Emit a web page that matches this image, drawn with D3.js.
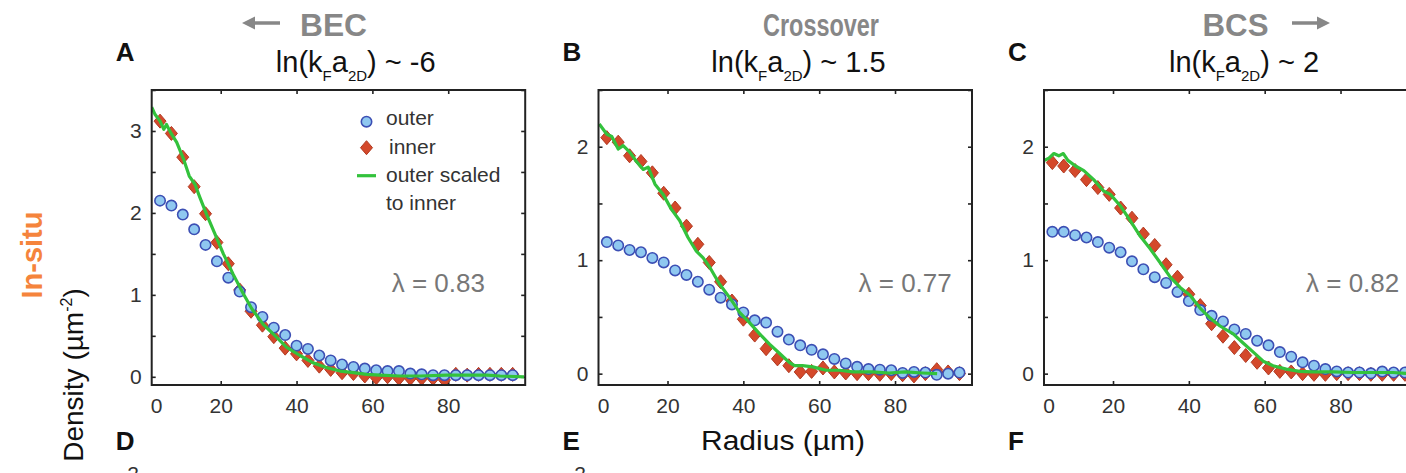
<!DOCTYPE html>
<html>
<head>
<meta charset="utf-8">
<script src="https://cdn.jsdelivr.net/npm/d3@7"></script>
<style>
  html, body { margin: 0; padding: 0; background: #fff; }
  svg { display: block; font-family: "Liberation Sans", Arial, sans-serif; }
</style>
</head>
<body>
<svg id="chart" width="1406" height="473"></svg>
<script>
// Radial density profiles of a 2D Fermi gas, three interaction regimes.
// Radius in µm, density in µm^-2.
const radii = [4, 7, 10, 13, 16, 19, 22, 25, 28, 31, 34, 37, 40, 43, 46, 49,
               52, 55, 58, 61, 64, 67, 70, 73, 76, 79, 82, 85, 88, 91, 94, 97];

// Panel A — BEC side
const outerA = [2.15, 2.09, 1.98, 1.80, 1.61, 1.41, 1.21, 1.04, 0.85, 0.73, 0.60, 0.51, 0.38, 0.34, 0.26, 0.20,
                0.15, 0.12, 0.10, 0.08, 0.07, 0.07, 0.04, 0.03, 0.02, 0.02, 0.02, 0.02, 0.02, 0.02, 0.02, 0.02];
const innerA = [3.12, 2.97, 2.68, 2.32, 1.99, 1.64, 1.38, 1.06, 0.80, 0.63, 0.49, 0.35, 0.28, 0.20, 0.13, 0.09,
                0.05, 0.04, 0.01, -0.01, 0.00, -0.02, -0.02, -0.02, -0.02, -0.04, 0.03, 0.02, 0.03, 0.03, 0.03, 0.03];
const scaledRadiiA = [1.8, 2.7, 4.0, 5.0, 5.7, 6.8, 8.4, 10.1, 11.7, 13.2, 14.5, 16.3, 18.5, 20.7, 23.3, 26.0, 28.2,
                      31.2, 33.9, 37.4, 40.9, 44.4, 48.0, 51.5, 55.0, 58.5, 62.0, 67.3, 72.6, 79.6, 84.9, 90.2, 93.7, 100];
const scaledA = [3.29, 3.20, 3.12, 3.02, 3.08, 2.98, 2.86, 2.67, 2.45, 2.35, 2.19, 1.98, 1.74, 1.50, 1.25, 1.01, 0.83,
                 0.64, 0.52, 0.36, 0.26, 0.17, 0.11, 0.07, 0.05, 0.03, 0.02, 0.01, 0.01, 0.02, 0.02, 0.02, 0.01, 0.00];

// Panel B — crossover
const outerB = [1.16, 1.13, 1.09, 1.07, 1.02, 0.98, 0.91, 0.87, 0.81, 0.74, 0.67, 0.61, 0.54, 0.47, 0.45, 0.37,
                0.30, 0.25, 0.21, 0.17, 0.13, 0.09, 0.06, 0.04, 0.035, 0.03, 0.006, 0.015, 0.01, -0.01, 0.00, 0.01];
const innerB = [2.08, 2.04, 1.92, 1.87, 1.77, 1.59, 1.46, 1.30, 1.14, 0.98, 0.81, 0.64, 0.48, 0.34, 0.22, 0.13,
                0.07, 0.015, 0.02, 0.05, 0.015, 0.006, 0.00, 0.00, -0.006, 0.00, -0.01, -0.02, 0.00, 0.035, 0.015, 0.00];
const scaledRadiiB = [2.0, 4.0, 5.3, 7.0, 8.3, 10.1, 11.8, 13.6, 14.9, 16.7, 18.85, 21.0, 23.2, 25.4, 27.6, 29.4, 31.1, 33.7,
                      36.4, 39.0, 41.6, 44.3, 46.9, 49.5, 52.1, 53.5, 55.6, 58.3, 61.8, 65.3, 68.9, 74.0, 78.4, 82.8, 87.2, 91.1];
const scaledB = [2.20, 2.11, 2.09, 1.98, 2.01, 1.95, 1.87, 1.80, 1.82, 1.67, 1.58, 1.45, 1.35, 1.20, 1.08, 1.02, 0.94, 0.79,
                 0.67, 0.54, 0.45, 0.35, 0.26, 0.18, 0.10, 0.07, 0.07, 0.06, 0.03, 0.03, 0.015, 0.015, 0.006, 0.015, 0.006, 0.00];

// Panel C — BCS side
const outerC = [1.25, 1.25, 1.22, 1.20, 1.16, 1.11, 1.07, 0.99, 0.92, 0.85, 0.80, 0.72, 0.64, 0.56, 0.51, 0.46,
                0.39, 0.35, 0.29, 0.25, 0.19, 0.15, 0.10, 0.07, 0.04, 0.02, 0.01, 0.01, 0.003, 0.018, 0.01, 0.01];
const innerC = [1.86, 1.83, 1.79, 1.71, 1.64, 1.58, 1.46, 1.37, 1.23, 1.13, 0.96, 0.85, 0.70, 0.60, 0.44, 0.33,
                0.23, 0.16, 0.10, 0.05, 0.02, 0.015, 0.00, -0.006, -0.006, 0.00, 0.00, 0.00, -0.006, -0.006, -0.006, -0.006];
const scaledRadiiC = [1.9, 3.1, 4.4, 5.7, 6.9, 8.1, 10.1, 12.3, 14.9, 17.5, 19.3, 21.9, 24.5, 27.2, 29.8, 32.4, 35.1, 37.7,
                      40.3, 42.9, 45.6, 48.2, 51.7, 54.3, 57.0, 59.6, 62.2, 65.7, 69.2, 72.7, 78.0, 83.2, 88.5, 93.8, 97.1, 100];
const scaledC = [1.88, 1.90, 1.94, 1.92, 1.94, 1.88, 1.83, 1.79, 1.71, 1.61, 1.58, 1.48, 1.35, 1.21, 1.10, 0.98, 0.85, 0.76,
                 0.69, 0.58, 0.49, 0.42, 0.35, 0.27, 0.19, 0.11, 0.07, 0.04, 0.02, 0.015, 0.015, 0.01, 0.01, 0.01, 0.003, 0.003];

// Labels
const panelLetters = ["A", "B", "C"];
const lowerLetters = ["D", "E", "F"];
const regimes = ["BEC", "Crossover", "BCS"];
const couplings = ["-6", "1.5", "2"];
const lambdas = ["0.83", "0.77", "0.82"];
const xTickValues = [20, 40, 60, 80];
const yMaxes = [3.5, 2.5, 2.5];
const legendLabels = ["outer", "inner", "outer scaled", "to inner"];

// Layout
const plotW = 373.5, plotTop = 90, plotBottom = 385;
const panelLefts = [151.7, 598.5, 1044];
const subtitleOffsets = [204, 200, 200];
const lambdaOffsets = [240, 260, 262];
const xDomain = [1.8, 100.3];

const COLORS = {
  circleFill: "#8fc8f0", circleStroke: "#3c4fb4",
  diamondFill: "#d4492b", diamondStroke: "#b13a22",
  green: "#33c23c", frame: "#222", tick: "#333", gray: "#878787",
  orange: "#f5843c"
};

const panels = [
  { outer: outerA, inner: innerA, sr: scaledRadiiA, sv: scaledA },
  { outer: outerB, inner: innerB, sr: scaledRadiiB, sv: scaledB },
  { outer: outerC, inner: innerC, sr: scaledRadiiC, sv: scaledC }
];

const svg = d3.select("#chart");
const diamond = (cx, cy) => `M${cx},${cy - 7}L${cx + 6},${cy}L${cx},${cy + 7}L${cx - 6},${cy}Z`;

panels.forEach((p, i) => {
  const left = panelLefts[i];
  const x = d3.scaleLinear().domain(xDomain).range([left, left + plotW]);
  const y = d3.scaleLinear().domain([-0.1, yMaxes[i]]).range([plotBottom, plotTop]);
  const g = svg.append("g");

  const clipId = "clip" + i;
  svg.append("clipPath").attr("id", clipId)
    .append("rect").attr("x", left).attr("y", plotTop).attr("width", plotW).attr("height", plotBottom - plotTop);

  const yTicks = d3.range(0, yMaxes[i] + 0.01, 0.5);

  // left axis with inward ticks, integer labels
  const axL = g.append("g").attr("transform", `translate(${left},0)`)
    .call(d3.axisLeft(y).tickValues(yTicks).tickSize(-4).tickPadding(10)
      .tickFormat(d => Number.isInteger(d) ? d3.format("d")(d) : ""));
  // right axis
  const axR = g.append("g").attr("transform", `translate(${left + plotW},0)`)
    .call(d3.axisRight(y).tickValues(yTicks).tickSize(-4).tickFormat(""));
  // top axis
  const axT = g.append("g").attr("transform", `translate(0,${plotTop})`)
    .call(d3.axisTop(x).tickValues(xTickValues).tickSize(-4).tickFormat(""));
  // bottom axis
  const axB = g.append("g").attr("transform", `translate(0,${plotBottom})`)
    .call(d3.axisBottom(x).tickValues(xTickValues).tickSize(-4).tickPadding(13).tickFormat(d3.format("d")));

  [axL, axR, axT, axB].forEach(a => {
    a.select(".domain").remove();
    a.selectAll("line").attr("stroke", COLORS.frame).attr("stroke-width", 1.6);
    a.selectAll("text").attr("font-size", 21).attr("fill", COLORS.tick)
      .attr("font-family", "Liberation Sans, Arial, sans-serif");
  });
  // origin label of the radius axis
  g.append("text").attr("x", left + 5).attr("y", plotBottom + 13).attr("dy", "0.71em")
    .attr("text-anchor", "middle").attr("font-size", 21).attr("fill", COLORS.tick).text("0");

  const plot = g.append("g").attr("clip-path", `url(#${clipId})`);

  // inner (diamonds)
  plot.selectAll("path.inner").data(p.inner).join("path").attr("class", "inner")
    .attr("d", (d, j) => diamond(x(radii[j]), y(d)))
    .attr("fill", COLORS.diamondFill).attr("stroke", COLORS.diamondStroke).attr("stroke-width", 1);

  // outer (circles)
  plot.selectAll("circle.outer").data(p.outer).join("circle").attr("class", "outer")
    .attr("cx", (d, j) => x(radii[j])).attr("cy", d => y(d)).attr("r", 5.2)
    .attr("fill", COLORS.circleFill).attr("stroke", COLORS.circleStroke).attr("stroke-width", 1.6);

  // outer scaled to inner (line)
  const line = d3.line().x(d => x(d[0])).y(d => y(d[1]));
  plot.append("path").datum(p.sr.map((r, j) => [r, p.sv[j]]))
    .attr("d", line).attr("fill", "none").attr("stroke", COLORS.green)
    .attr("stroke-width", 3.2).attr("stroke-linejoin", "round");

  // frame
  g.append("rect").attr("x", left).attr("y", plotTop).attr("width", plotW).attr("height", plotBottom - plotTop)
    .attr("fill", "none").attr("stroke", COLORS.frame).attr("stroke-width", 2);

  // lambda annotation
  g.append("text").attr("x", left + lambdaOffsets[i]).attr("y", 292)
    .attr("font-size", 26).attr("fill", "#777").text("λ = " + lambdas[i]);

  // panel letters
  svg.append("text").attr("x", left - 36).attr("y", 61).attr("font-size", 26).attr("font-weight", "bold")
    .attr("fill", "#111").text(panelLetters[i]);
  svg.append("text").attr("x", left - 36).attr("y", 450).attr("font-size", 26).attr("font-weight", "bold")
    .attr("fill", "#111").text(lowerLetters[i]);

  // coupling subtitle: ln(k_F a_2D) ~ value
  const st = svg.append("text").attr("x", left + subtitleOffsets[i]).attr("y", 72)
    .attr("text-anchor", "middle").attr("font-size", 29).attr("fill", "#111");
  st.append("tspan").text("ln(k");
  st.append("tspan").attr("font-size", 15).attr("dy", 9).text("F");
  st.append("tspan").attr("dy", -9).text("a");
  st.append("tspan").attr("font-size", 15).attr("dy", 9).text("2D");
  st.append("tspan").attr("dy", -9).text(") ~ " + couplings[i]);
});

// regime headers with arrows; each word is fitted to its width with a horizontal scale
function arrow(x1, x2, yy, headLeft) {
  const hx = headLeft ? x1 : x2, dir = headLeft ? 1 : -1;
  svg.append("line").attr("x1", headLeft ? x1 + 8 : x1).attr("x2", headLeft ? x2 : x2 - 8)
    .attr("y1", yy).attr("y2", yy).attr("stroke", COLORS.gray).attr("stroke-width", 3.5);
  svg.append("path").attr("d", `M${hx},${yy}L${hx + dir * 13},${yy - 6.5}L${hx + dir * 13},${yy + 6.5}Z`)
    .attr("fill", COLORS.gray);
}
const headerX = [333.5, 821, 1235.5];
const headerW = [67, 116, 66];
regimes.forEach((r, i) => {
  const g = svg.append("g").attr("transform", `translate(${headerX[i]},36)`);
  const t = g.append("text").attr("text-anchor", "middle")
    .attr("font-size", 31).attr("font-weight", "bold").attr("fill", COLORS.gray).text(r);
  const w = t.node().getComputedTextLength();
  t.attr("transform", `scale(${headerW[i] / w},1)`);
});
arrow(242, 280, 23, true);
arrow(1292, 1330, 23, false);

// legend (panel A)
{
  const lx = 366.5;
  svg.append("circle").attr("cx", lx).attr("cy", 121.7).attr("r", 5.2)
    .attr("fill", COLORS.circleFill).attr("stroke", COLORS.circleStroke).attr("stroke-width", 1.6);
  svg.append("path").attr("d", diamond(lx, 147.7))
    .attr("fill", COLORS.diamondFill).attr("stroke", COLORS.diamondStroke).attr("stroke-width", 1);
  svg.append("line").attr("x1", 357).attr("x2", 376).attr("y1", 175.7).attr("y2", 175.7)
    .attr("stroke", COLORS.green).attr("stroke-width", 3.2);
  const ly = [125, 154, 182, 210];
  const lxs = [386, 389, 386, 386];
  legendLabels.forEach((t, j) => {
    svg.append("text").attr("x", lxs[j]).attr("y", ly[j]).attr("font-size", 21).attr("fill", "#333").text(t);
  });
}

// row label and axis titles
svg.append("text").attr("transform", "translate(42,255) rotate(-90)").attr("text-anchor", "middle")
  .attr("font-size", 29).attr("font-weight", "bold").attr("fill", COLORS.orange).text("In-situ");

const yl = svg.append("text").attr("transform", "translate(83,375) rotate(-90)").attr("text-anchor", "middle")
  .attr("font-size", 28).attr("fill", "#111");
yl.append("tspan").text("Density (µm");
yl.append("tspan").attr("font-size", 16).attr("dy", -11).text("-2");
yl.append("tspan").attr("dy", 11).text(")");

svg.append("text").attr("x", 783).attr("y", 450).attr("text-anchor", "middle")
  .attr("font-size", 27).attr("fill", "#111").attr("textLength", 164).attr("lengthAdjust", "spacingAndGlyphs")
  .text("Radius (µm)");

// tops of the next row's tick labels
[133, 580].forEach(px => {
  svg.append("text").attr("x", px).attr("y", 481).attr("text-anchor", "middle")
    .attr("font-size", 21).attr("fill", COLORS.tick).text("2");
});
</script>
</body>
</html>
